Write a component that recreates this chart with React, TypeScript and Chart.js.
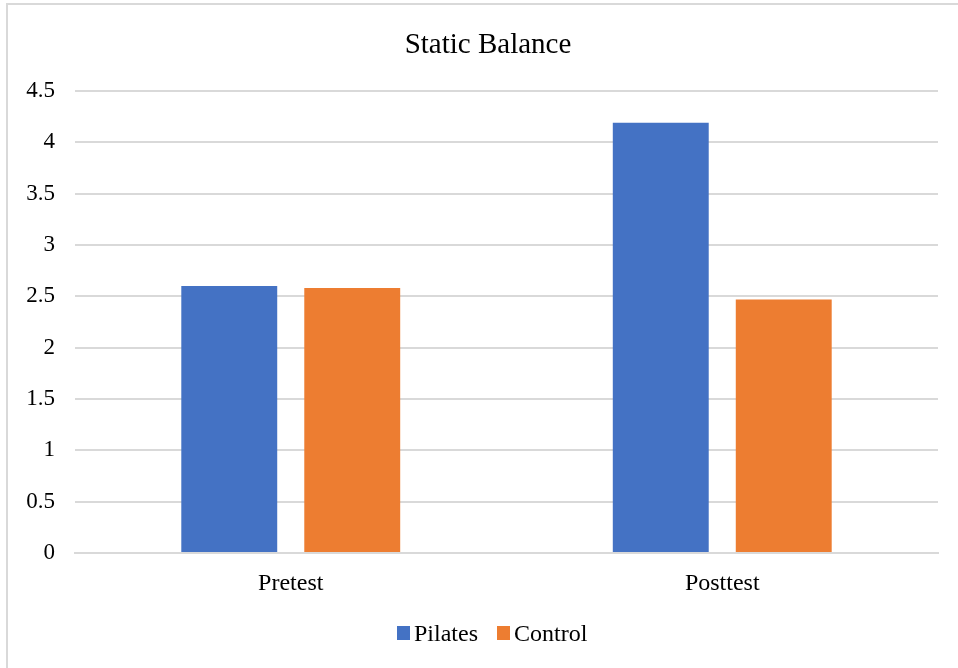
import React, { useEffect, useRef } from "react";
import { Chart, registerables } from "chart.js";

Chart.register(...registerables);

const chartTitle = "Static Balance";
const categories = ["Pretest", "Posttest"];
const seriesNames = ["Pilates", "Control"];
const seriesColors = ["#4472C4", "#ED7D31"];
const pilatesValues = [2.6, 4.19];
const controlValues = [2.58, 2.47];
const yTickValues = [0, 0.5, 1, 1.5, 2, 2.5, 3, 3.5, 4, 4.5];

const FONT = "'Liberation Serif', 'Times New Roman', serif";

export default function App() {
  const ref = useRef<HTMLCanvasElement | null>(null);

  useEffect(() => {
    if (!ref.current) return;
    const chart = new Chart(ref.current, {
      type: "bar",
      data: {
        labels: categories,
        datasets: [
          {
            label: seriesNames[0],
            data: pilatesValues,
            backgroundColor: seriesColors[0],
            categoryPercentage: 0.57,
            barPercentage: 0.78,
          },
          {
            label: seriesNames[1],
            data: controlValues,
            backgroundColor: seriesColors[1],
            categoryPercentage: 0.57,
            barPercentage: 0.78,
          },
        ],
      },
      options: {
        animation: false,
        responsive: false,
        maintainAspectRatio: false,
        layout: { padding: { left: 0, right: 20, top: 91, bottom: 0 } },
        plugins: {
          tooltip: { enabled: false },
          legend: { display: false },
          title: { display: false },
        },
        scales: {
          x: {
            afterFit: (s: any) => {
              s.height = 115;
            },
            grid: { display: false, drawTicks: false },
            border: { color: "#d9d9d9", width: 2 },
            ticks: { color: "#000", font: { family: FONT, size: 24 }, padding: 16 },
          },
          y: {
            min: 0,
            max: 4.5,
            afterFit: (s: any) => {
              s.width = 75;
            },
            afterBuildTicks: (s: any) => {
              s.ticks = yTickValues.map((v) => ({ value: v }));
            },
            grid: { color: "#d9d9d9", lineWidth: 2, drawTicks: false },
            border: { display: false },
            ticks: {
              color: "#000",
              font: { family: FONT, size: 23 },
              padding: 20,
              callback: (v: any) => String(v),
            },
          },
        },
      },
    });
    return () => chart.destroy();
  }, []);

  return (
    <div style={{ position: "absolute", left: 0, top: 0, width: 958, height: 668, background: "#fff", overflow: "hidden" }}>
      <div
        style={{
          position: "absolute",
          left: 6,
          top: 3,
          width: 1000,
          height: 700,
          borderLeft: "2px solid #d9d9d9",
          borderTop: "2px solid #d9d9d9",
        }}
      />
      <canvas ref={ref} width={958} height={668} style={{ position: "absolute", left: 0, top: 0 }} />
      <div
        style={{
          position: "absolute",
          left: 288,
          width: 400,
          top: 26,
          height: 34,
          lineHeight: "34px",
          textAlign: "center",
          fontFamily: FONT,
          fontSize: 29,
          color: "#000",
          whiteSpace: "nowrap",
        }}
      >
        {chartTitle}
      </div>
      <div
        style={{
          position: "absolute",
          left: 397,
          top: 618,
          height: 30,
          display: "flex",
          alignItems: "center",
          fontFamily: FONT,
          fontSize: 24,
          color: "#000",
          whiteSpace: "nowrap",
        }}
      >
        {seriesNames.map((name, i) => (
          <div key={name} style={{ display: "flex", alignItems: "center", marginRight: i === 0 ? 19 : 0 }}>
            <span style={{ display: "inline-block", width: 13, height: 14, background: seriesColors[i], marginRight: 4 }} />
            <span>{name}</span>
          </div>
        ))}
      </div>
    </div>
  );
}
